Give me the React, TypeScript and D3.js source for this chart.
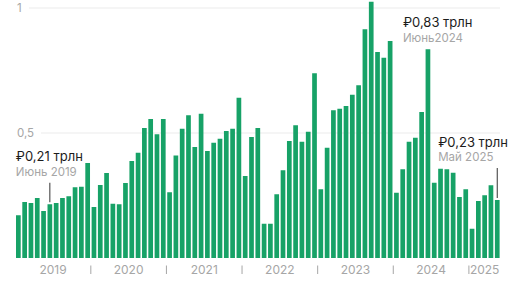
import React from "react";
import * as d3 from "d3";

const years = ["2019", "2020", "2021", "2022", "2023", "2024", "2025"];
const values2019 = [0.171, 0.224, 0.22, 0.24, 0.188, 0.215, 0.22, 0.24, 0.247, 0.283, 0.285, 0.38];
const values2020 = [0.204, 0.292, 0.34, 0.217, 0.215, 0.3, 0.388, 0.421, 0.52, 0.556, 0.495, 0.556];
const values2021 = [0.263, 0.41, 0.517, 0.571, 0.444, 0.577, 0.428, 0.461, 0.477, 0.508, 0.517, 0.641];
const values2022 = [0.328, 0.484, 0.52, 0.137, 0.137, 0.255, 0.351, 0.468, 0.531, 0.465, 0.505, 0.739];
const values2023 = [0.275, 0.441, 0.591, 0.597, 0.608, 0.653, 0.691, 0.915, 1.025, 0.824, 0.801, 0.868];
const values2024 = [0.261, 0.355, 0.465, 0.481, 0.584, 0.835, 0.301, 0.357, 0.355, 0.341, 0.244, 0.275];
const values2025 = [0.117, 0.228, 0.251, 0.291, 0.232];
const yearValues = [values2019, values2020, values2021, values2022, values2023, values2024, values2025];

const yTicks = [1, 0.5];
const yTickLabels = ["1", "0,5"];

// annotations: bar index, value label, date label
const annotations = [
  { index: 5, value: "₽0,21 трлн", date: "Июнь 2019", dx: -34, tick: true },
  { index: 65, value: "₽0,83 трлн", date: "Июнь2024", dx: -25, tick: false },
  { index: 76, value: "₽0,23 трлн", date: "Май 2025", dx: -59, tick: true },
];

const W = 516;
const H = 290;
const FONT = "Inter, 'Noto Sans', sans-serif";

const bars = yearValues.flatMap((vals, yi) =>
  vals.map((v, m) => ({ year: years[yi], month: m, value: v }))
);

export default function App() {
  const x = d3
    .scaleBand<number>()
    .domain(bars.map((_, i) => i))
    .range([16, 499.6])
    .paddingInner(0.254)
    .paddingOuter(0);
  const y = d3.scaleLinear().domain([0, 1]).range([258, 8]);
  const step = x.step();
  const bw = x.bandwidth();
  const gap = step - bw;

  let start = 0;
  const yearSpans = yearValues.map((vals, yi) => {
    const s = start;
    const e = start + vals.length - 1;
    start += vals.length;
    return { year: years[yi], x0: x(s)!, x1: x(e)! + bw };
  });

  return (
    <svg
      width={W}
      height={H}
      style={{ position: "absolute", left: 0, top: 0, background: "#fff" }}
      fontFamily={FONT}
    >
      {yTicks.map((t, i) => {
        const label = yTickLabels[i];
        const lx = 17;
        const textW = label.length === 1 ? 5 : 17;
        return (
          <g key={t}>
            <text x={lx} y={y(t) + 4} fontSize={11.5} fill="#a6a6a6">
              {label}
            </text>
            <line
              x1={lx + textW + 7}
              x2={500}
              y1={y(t)}
              y2={y(t)}
              stroke="#ececec"
              strokeWidth={1.2}
            />
          </g>
        );
      })}
      {bars.map((b, i) => (
        <rect
          key={i}
          x={x(i)}
          y={y(b.value)}
          width={bw}
          height={y(0) - y(b.value)}
          fill="#17a267"
        />
      ))}
      {yearSpans.map((s, i) => (
        <g key={s.year}>
          <text
            x={(s.x0 + s.x1) / 2}
            y={273.5}
            fontSize={12}
            fill="#a6a6a6"
            textAnchor="middle"
          >
            {s.year}
          </text>
          {i > 0 && (
            <line
              x1={s.x0 - gap / 2}
              x2={s.x0 - gap / 2}
              y1={265.5}
              y2={274}
              stroke="#a6a6a6"
              strokeWidth={1}
            />
          )}
        </g>
      ))}
      {annotations.map((a) => {
        const cx = x(a.index)! + bw / 2;
        const top = y(bars[a.index].value);
        const tx = cx + a.dx;
        const tickBottom = top - 2;
        const tickTop = tickBottom - (a.index === 5 ? 19.5 : 30);
        const dateY = tickTop - 7;
        const valueY = a.tick ? dateY - 14.5 : top - 22;
        const dY = a.tick ? dateY : top - 7.6;
        return (
          <g key={a.index}>
            <text x={tx} y={valueY} fontSize={13} fill="#1c1c1c">
              {a.value}
            </text>
            <text x={tx} y={dY} fontSize={11.5} fill="#a6a6a6">
              {a.date}
            </text>
            {a.tick && (
              <line
                x1={cx}
                x2={cx}
                y1={tickTop}
                y2={tickBottom}
                stroke="#333"
                strokeWidth={1}
              />
            )}
          </g>
        );
      })}
    </svg>
  );
}
